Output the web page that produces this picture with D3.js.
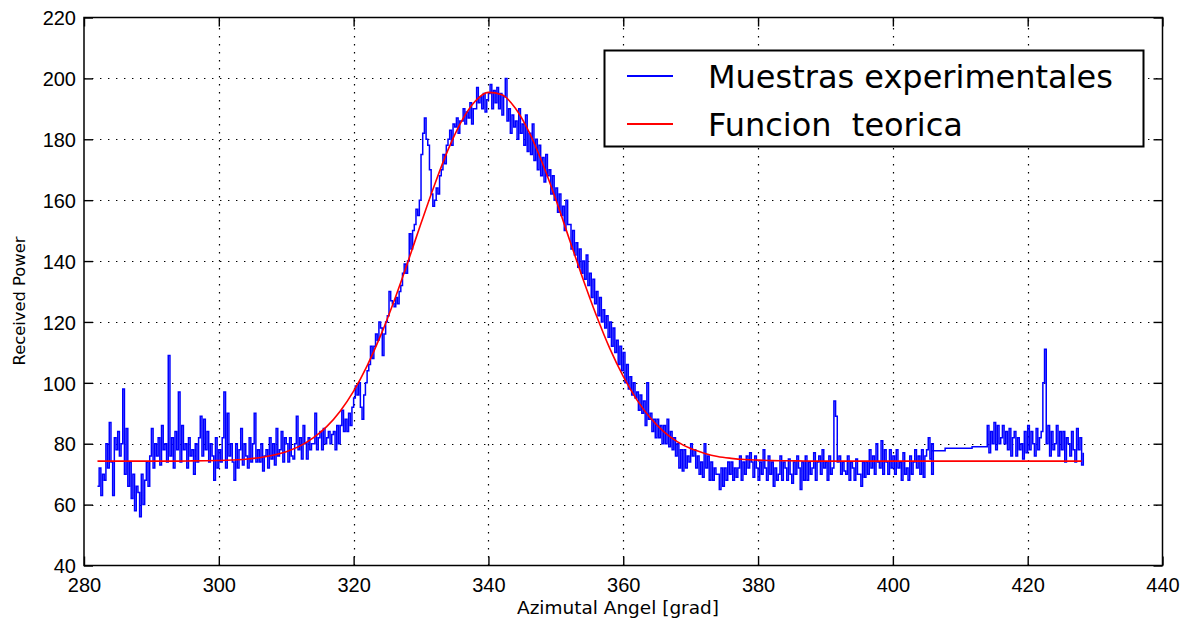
<!DOCTYPE html>
<html>
<head>
<meta charset="utf-8">
<script src="https://cdn.jsdelivr.net/npm/d3@7"></script>
<style>
  html, body { margin: 0; padding: 0; background: #fff; }
  svg { display: block; }
</style>
</head>
<body>
<svg id="chart" width="1186" height="627"></svg>
<script>
// ---------------- DATA ----------------
const xTicks = [280, 300, 320, 340, 360, 380, 400, 420, 440];
const yTicks = [40, 60, 80, 100, 120, 140, 160, 180, 200, 220];
const seriesNames = ["Muestras experimentales", "Funcion  teorica"];
const xLabel = "Azimutal Angel [grad]";
const yLabel = "Received Power";

// Experimental samples, part A: angle 282 .. 405.5, every 0.25 grad
const samplesAStart = 282;
const samplesAStep = 0.25;
const samplesA = [
  66,72,63,70, 68,80,72,87, 74,63,82,78, 84,76,80,98, 70,85,66,74,
  62,70,58,66, 64,56,70,60, 68,74,66,76, 85,72,80,76, 82,73,86,78,
  80,74,109,76, 82,72,84,78, 97,74,86,78, 80,72,82,76, 78,70,80,74,
  82,89,76,88, 78,84,74,80, 76,68,82,72, 78,74,82,97, 72,90,76,80,
  74,68,80,72, 78,85,73,80, 76,72,82,74, 80,90,74,78, 74,80,71,76,
  78,72,82,75, 80,73,85,76, 78,84,74,82, 80,74,82,76, 75,80,89,78,
  82,75,86,80, 75,82,78,80, 80,90,78,82, 84,78,85,80, 82,84,80,83,
  84,78,86,80, 86,91,84,88, 84,90,86,92, 95,99,96,100, 92,88,96,100,
  104,106,112,108, 112,116,114,120, 118,109,116,120, 122,130,127,126, 125,128,126,130,
  132,136,139,136, 140,149,144,150, 152,157,155,160, 175,182,187,180, 178,170,162,158,
  160,164,162,168, 170,175,172,178, 180,183,178,185, 184,187,182,186, 186,190,185,189,
  187,192,185,190, 190,197,192,194, 190,195,189,193, 195,198,190,196, 192,197,190,195,
  188,194,200,186, 190,182,188,184, 186,180,190,182, 185,178,188,176, 182,175,185,173,
  180,170,178,168, 174,166,175,168, 170,162,168,160, 164,156,162,155, 158,150,160,152,
  152,144,150,142, 146,138,144,136, 140,134,142,132, 136,128,134,126, 130,122,128,120,
  124,118,122,115, 120,112,118,110, 114,106,112,104, 110,100,106,98, 102,96,100,95,
  97,91,96,90, 94,86,100,88, 90,84,88,82, 88,82,86,80, 86,80,88,79,
  84,78,82,76, 80,72,78,71, 78,72,76,74, 80,76,78,72, 76,70,74,69,
  80,72,76,68, 74,68,72,70, 70,65,72,66, 72,68,74,70, 74,68,72,69,
  72,76,68,74, 70,76,72,77, 74,69,76,72, 68,74,70,78, 72,68,76,70,
  74,66,72,68, 70,76,68,74, 72,68,75,70, 67,74,70,76, 72,65,74,68,
  76,68,74,70, 72,77,68,74, 76,70,78,72, 74,68,76,70, 72,94,89,74,
  76,70,74,71, 70,76,68,74, 72,68,75,70, 70,66,74,69, 74,70,78,72,
  76,70,80,74, 72,81,70,78, 74,70,78,72, 76,70,78,72, 74,68,77,70,
  72,68,76,70, 74,78,72,76, 70,78,69,76, 78,82,75,80, 70
];
// Sparse stretch with no dense sampling
const gapAngles = [405.75, 407.75, 411.75];
const gapValues = [77.7, 78.5, 79];
// Experimental samples, part B: angle 413.75 .. 428.25, every 0.25 grad
const samplesBStart = 413.75;
const samplesBStep = 0.25;
const samplesB = [
  79,
  86,77,84,80, 87,78,86,80, 82,86,80,84, 78,85,76,82, 84,76,82,78,
  80,75,84,77, 86,78,84,80, 76,85,78,82, 84,100,111,80, 86,76,84,78,
  80,86,76,84, 78,84,74,82, 80,76,84,78, 74,85,78,82, 73,77
];

// Theoretical function, every 2 grad from 282 to 428
const theoryAngles = [282,284,286,288,290,292,294,296,298,300,302,304,306,308,310,312,314,316,318,320,
  322,324,326,328,330,332,334,336,338,340,342,344,346,348,350,352,354,356,358,360,
  362,364,366,368,370,372,374,376,378,380,382,384,386,388,390,392,394,396,398,400,
  402,404,406,408,410,412,414,416,418,420,422,424,426,428];
const theoryValues = [74.3,74.3,74.3,74.3,74.3,74.3,74.3,74.35,74.4,74.5,74.65,74.9,75.4,76.2,77.4,79.2,81.9,85.6,90.7,97.3,
  105.6,115.5,126.9,139.4,152.4,165.0,176.5,185.9,192.4,195.4,194.6,190.2,182.5,172.2,160.2,147.2,134.3,122.2,111.3,102.1,
  94.5,88.5,84.0,80.7,78.4,76.9,75.8,75.2,74.8,74.6,74.45,74.4,74.35,74.3,74.3,74.3,74.3,74.3,74.3,74.3,
  74.3,74.3,74.3,74.3,74.3,74.3,74.3,74.3,74.3,74.3,74.3,74.3,74.3,74.3];

// ---------------- CHART ----------------
const svg = d3.select("#chart");
const M = { left: 84, top: 17.5, right: 1162.5, bottom: 565.5 };
const x = d3.scaleLinear().domain([280, 440]).range([M.left, M.right]);
const y = d3.scaleLinear().domain([40, 220]).range([M.bottom, M.top]);

const blue = [];
samplesA.forEach((v, i) => blue.push([samplesAStart + i * samplesAStep, v]));
gapAngles.forEach((a, i) => blue.push([a, gapValues[i]]));
samplesB.forEach((v, i) => blue.push([samplesBStart + i * samplesBStep, v]));
const red = theoryAngles.map((a, i) => [a, theoryValues[i]]);

svg.append("defs").append("clipPath").attr("id", "clip")
  .append("rect").attr("x", M.left).attr("y", M.top)
  .attr("width", M.right - M.left).attr("height", M.bottom - M.top);

// grid
const grid = svg.append("g").attr("stroke", "#000").attr("stroke-width", 1.2)
  .attr("stroke-dasharray", "1.4,6.6").attr("fill", "none");
xTicks.slice(1, -1).forEach(t => grid.append("line")
  .attr("x1", Math.round(x(t)) + 0.5).attr("x2", Math.round(x(t)) + 0.5)
  .attr("y1", M.bottom).attr("y2", M.top));
yTicks.slice(1, -1).forEach(t => grid.append("line")
  .attr("x1", M.left).attr("x2", M.right)
  .attr("y1", Math.round(y(t)) + 0.5).attr("y2", Math.round(y(t)) + 0.5));

// lines
const plot = svg.append("g").attr("clip-path", "url(#clip)");
plot.append("path").datum(blue)
  .attr("fill", "none").attr("stroke", "#0000ff").attr("stroke-width", 1.5)
  .attr("d", d3.line().x(d => x(d[0])).y(d => y(d[1])).curve(d3.curveStepAfter));
plot.append("path").datum(red)
  .attr("fill", "none").attr("stroke", "#ff0000").attr("stroke-width", 1.6)
  .attr("d", d3.line().x(d => x(d[0])).y(d => y(d[1])).curve(d3.curveMonotoneX));

// axes (ticks inside, on all four sides)
const tickLen = 9;
const fontTicks = "'Liberation Sans', Arial, sans-serif";
const axB = svg.append("g").attr("transform", `translate(0,${M.bottom})`)
  .call(d3.axisBottom(x).tickValues(xTicks).tickSizeInner(-tickLen).tickSizeOuter(0).tickPadding(18));
const axT = svg.append("g").attr("transform", `translate(0,${M.top})`)
  .call(d3.axisTop(x).tickValues(xTicks).tickSizeInner(-tickLen).tickSizeOuter(0).tickFormat(""));
const axL = svg.append("g").attr("transform", `translate(${M.left},0)`)
  .call(d3.axisLeft(y).tickValues(yTicks).tickSizeInner(-tickLen).tickSizeOuter(0).tickPadding(8));
const axR = svg.append("g").attr("transform", `translate(${M.right},0)`)
  .call(d3.axisRight(y).tickValues(yTicks).tickSizeInner(-tickLen).tickSizeOuter(0).tickFormat(""));
[axB, axT, axL, axR].forEach(g => {
  g.select(".domain").remove();
  g.selectAll(".tick line").attr("stroke", "#000").attr("stroke-width", 1.4);
  g.selectAll("text").attr("fill", "#000").attr("font-family", fontTicks).attr("font-size", 20);
});
axB.selectAll("text").attr("dy", "0.42em");
axL.selectAll("text").attr("dy", "0.36em");

// frame
svg.append("rect").attr("x", M.left).attr("y", M.top)
  .attr("width", M.right - M.left).attr("height", M.bottom - M.top)
  .attr("fill", "none").attr("stroke", "#000").attr("stroke-width", 1.5);

// axis labels (fitted to the reference text widths)
const labelFont = "'DejaVu Sans', sans-serif";
const xl = svg.append("text").attr("x", 618).attr("y", 614).attr("text-anchor", "middle")
  .attr("font-family", labelFont).attr("font-size", 16).attr("fill", "#000").text(xLabel);
xl.attr("font-size", 16 * 202 / xl.node().getComputedTextLength());
const yl = svg.append("text").attr("transform", "translate(25,301) rotate(-90)").attr("text-anchor", "middle")
  .attr("font-family", labelFont).attr("font-size", 16).attr("fill", "#000").text(yLabel);
yl.attr("font-size", 16 * 129 / yl.node().getComputedTextLength());

// legend
const lg = svg.append("g");
lg.append("rect").attr("x", 604.5).attr("y", 50.5).attr("width", 539).attr("height", 96)
  .attr("fill", "#fff").attr("stroke", "#000").attr("stroke-width", 2);
const legendColors = ["#0000ff", "#ff0000"];
const rowY = [76, 124];
seriesNames.forEach((name, i) => {
  lg.append("line").attr("x1", 627).attr("x2", 673).attr("y1", rowY[i]).attr("y2", rowY[i])
    .attr("stroke", legendColors[i]).attr("stroke-width", 1.8);
  lg.append("text").attr("x", 708).attr("y", rowY[i]).attr("dy", "0.36em")
    .attr("font-family", "'DejaVu Sans', sans-serif").attr("font-size", 28)
    .attr("fill", "#000").style("white-space", "pre").text(name);
});
// fit legend text width to the box
const t0 = lg.select("text").node();
const w0 = t0.getComputedTextLength();
const fs = 28 * 405 / w0;
lg.selectAll("text").attr("font-size", fs);
</script>
</body>
</html>
